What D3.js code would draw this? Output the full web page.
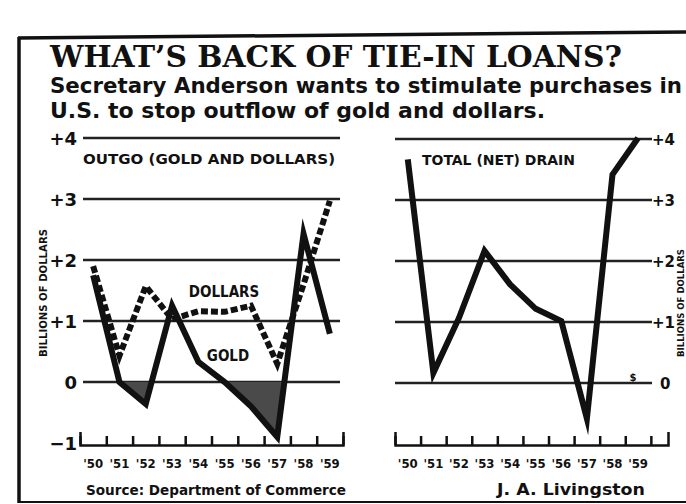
<!DOCTYPE html>
<html>
<head>
<meta charset="utf-8">
<script src="https://cdn.jsdelivr.net/npm/d3@7"></script>
<style>
	body { margin: 0; background: #fff; }
	svg { display: block; }
	.serif { font-family: "DejaVu Serif", serif; font-weight: bold; }
	.sans { font-family: "DejaVu Sans", sans-serif; font-weight: bold; }
	.narrow { font-family: "Liberation Sans Narrow", "DejaVu Sans Condensed", sans-serif; font-weight: bold; }
</style>
</head>
<body>
<svg id="chart"></svg>
<script>
// values (billions of dollars)
var years = [1950, 1951, 1952, 1953, 1954, 1955, 1956, 1957, 1958, 1959];
var yearLabels = ["'50", "'51", "'52", "'53", "'54", "'55", "'56", "'57", "'58", "'59"];
var gold = [1.75, 0.0, -0.36, 1.25, 0.33, 0.0, -0.4, -0.9, 2.43, 0.79];
var dollars = [1.9, 0.43, 1.57, 1.03, 1.16, 1.15, 1.25, 0.3, 1.6, 2.97];
var total = [3.65, 0.15, 1.05, 2.15, 1.6, 1.2, 1.0, -0.6, 3.4, 4.0];
var leftTickValues = [4, 3, 2, 1, 0, -1];
var leftTickLabels = ['+4', '+3', '+2', '+1', '0', '\u22121'];
var gridValues = [4, 3, 2, 1, 0];
var rightTickLabels = ['+4', '+3', '+2', '+1', '0'];

function makeChart() {
	let w = 686;
	let h = 504;
	let ink = '#111';

	let chart = d3.select('#chart')
		.attr('width', w)
		.attr('height', h);

	// frame
	chart.append('line')
		.attr('x1', 18).attr('y1', 38).attr('x2', w).attr('y2', 32)
		.style('stroke', ink).style('stroke-width', 3.5);
	chart.append('line')
		.attr('x1', 19).attr('y1', 37).attr('x2', 19).attr('y2', 503)
		.style('stroke', ink).style('stroke-width', 3.5);
	chart.append('line')
		.attr('x1', 18).attr('y1', 502).attr('x2', w).attr('y2', 502)
		.style('stroke', ink).style('stroke-width', 2);

	// headings
	chart.append('text').classed('serif', true)
		.attr('x', 50).attr('y', 67)
		.attr('textLength', 572).attr('lengthAdjust', 'spacingAndGlyphs')
		.style('font-size', '30px').style('fill', ink)
		.text('WHAT\u2019S BACK OF TIE-IN LOANS?');
	chart.append('text').classed('sans', true)
		.attr('x', 50).attr('y', 93)
		.attr('textLength', 632).attr('lengthAdjust', 'spacingAndGlyphs')
		.style('font-size', '21px').style('fill', ink)
		.text('Secretary Anderson wants to stimulate purchases in');
	chart.append('text').classed('sans', true)
		.attr('x', 50).attr('y', 118)
		.attr('textLength', 495).attr('lengthAdjust', 'spacingAndGlyphs')
		.style('font-size', '21px').style('fill', ink)
		.text('U.S. to stop outflow of gold and dollars.');

	let y = d3.scaleLinear().domain([-1, 4]).range([443, 138]);

	// ---------- left panel ----------
	let xl = d3.scaleLinear().domain([1949.5, 1959.5]).range([80, 343]);

	chart.selectAll('.gridL')
		.data(gridValues)
		.enter()
		.append('line')
		.classed('gridL', true)
		.attr('x1', 83).attr('x2', 340)
		.attr('y1', d => y(d)).attr('y2', d => y(d))
		.style('stroke', '#222').style('stroke-width', 2.5);

	chart.selectAll('.ylabL')
		.data(leftTickValues)
		.enter()
		.append('text')
		.attr('class', 'sans')
		.attr('x', 77)
		.attr('y', d => y(d) + 7)
		.style('text-anchor', 'end')
		.style('font-size', '18px')
		.style('fill', ink)
		.text((d, i) => leftTickLabels[i]);

	chart.append('text').classed('sans', true)
		.attr('transform', 'translate(47,293) rotate(-90)')
		.attr('textLength', 128).attr('lengthAdjust', 'spacingAndGlyphs')
		.style('text-anchor', 'middle').style('font-size', '10px').style('fill', ink)
		.text('BILLIONS OF DOLLARS');

	chart.append('text').classed('narrow', true)
		.attr('x', 83).attr('y', 164)
		.attr('textLength', 252).attr('lengthAdjust', 'spacingAndGlyphs')
		.style('font-size', '14px').style('fill', ink)
		.text('OUTGO (GOLD AND DOLLARS)');

	let axisL = d3.axisBottom(xl)
		.tickValues(d3.range(1949.5, 1960, 1))
		.tickSize(-9).tickSizeOuter(-13)
		.tickFormat('');
	chart.append('g')
		.attr('transform', 'translate(0,445)')
		.call(axisL)
		.call(g => g.selectAll('path, line').style('stroke', ink).style('stroke-width', 2.5));

	chart.selectAll('.yearL')
		.data(years)
		.enter()
		.append('text')
		.attr('class', 'narrow')
		.attr('x', d => xl(d))
		.attr('y', 468)
		.style('text-anchor', 'middle')
		.style('font-size', '13px')
		.style('fill', ink)
		.text((d, i) => yearLabels[i]);

	// shaded gold losses below zero
	chart.append('clipPath').attr('id', 'below')
		.append('rect')
		.attr('x', 0).attr('y', y(0)).attr('width', w).attr('height', 100);
	let areaL = d3.area()
		.x((d, i) => xl(years[i]))
		.y0(y(0))
		.y1(d => y(d));
	chart.append('path')
		.datum(gold)
		.attr('clip-path', 'url(#below)')
		.attr('d', areaL)
		.style('fill', '#4a4a4a');

	let lineL = d3.line()
		.x((d, i) => xl(years[i]))
		.y(d => y(d));

	chart.append('path')
		.datum(dollars)
		.attr('d', lineL)
		.style('fill', 'none')
		.style('stroke', ink)
		.style('stroke-width', 6)
		.style('stroke-dasharray', '7,3');

	chart.append('path')
		.datum(gold)
		.attr('d', lineL)
		.style('fill', 'none')
		.style('stroke', ink)
		.style('stroke-width', 6)
		.style('stroke-linejoin', 'miter')
		.style('stroke-miterlimit', 10);

	chart.append('text').classed('narrow', true)
		.attr('x', 224).attr('y', 297)
		.style('text-anchor', 'middle').style('font-size', '15px').style('fill', ink)
		.text('DOLLARS');
	chart.append('text').classed('narrow', true)
		.attr('x', 228).attr('y', 361)
		.style('text-anchor', 'middle').style('font-size', '15px').style('fill', ink)
		.text('GOLD');

	// ---------- right panel ----------
	let xr = d3.scaleLinear().domain([1949.5, 1960.17]).range([395, 668]);

	chart.selectAll('.gridR')
		.data(gridValues)
		.enter()
		.append('line')
		.classed('gridR', true)
		.attr('x1', 395).attr('x2', 652)
		.attr('y1', d => y(d) + 1).attr('y2', d => y(d) + 1)
		.style('stroke', '#222').style('stroke-width', 2.5);

	chart.selectAll('.ylabR')
		.data(gridValues)
		.enter()
		.append('text')
		.attr('class', 'sans')
		.attr('x', d => d === 0 ? 660 : 652)
		.attr('y', d => y(d) + 7)
		.style('font-size', '15px')
		.style('fill', ink)
		.text((d, i) => rightTickLabels[i]);

	chart.append('text').classed('sans', true)
		.attr('transform', 'translate(684,303) rotate(-90)')
		.attr('textLength', 108).attr('lengthAdjust', 'spacingAndGlyphs')
		.style('text-anchor', 'middle').style('font-size', '8px').style('fill', ink)
		.text('BILLIONS OF DOLLARS');

	chart.append('text').classed('narrow', true)
		.attr('x', 422).attr('y', 165)
		.attr('textLength', 153).attr('lengthAdjust', 'spacingAndGlyphs')
		.style('font-size', '14px').style('fill', ink)
		.text('TOTAL (NET) DRAIN');

	chart.append('text').classed('sans', true)
		.attr('x', 633).attr('y', 381)
		.style('text-anchor', 'middle').style('font-size', '10px').style('fill', ink)
		.text('$');

	let axisR = d3.axisBottom(xr)
		.tickValues(d3.range(1949.5, 1960, 1))
		.tickSize(-9).tickSizeOuter(-13)
		.tickFormat('');
	chart.append('g')
		.attr('transform', 'translate(0,445)')
		.call(axisR)
		.call(g => g.selectAll('path, line').style('stroke', ink).style('stroke-width', 2.5));

	chart.selectAll('.yearR')
		.data(years)
		.enter()
		.append('text')
		.attr('class', 'narrow')
		.attr('x', d => xr(d))
		.attr('y', 468)
		.style('text-anchor', 'middle')
		.style('font-size', '13px')
		.style('fill', ink)
		.text((d, i) => yearLabels[i]);

	let lineR = d3.line()
		.x((d, i) => xr(years[i]))
		.y(d => y(d));
	chart.append('path')
		.datum(total)
		.attr('d', lineR)
		.style('fill', 'none')
		.style('stroke', ink)
		.style('stroke-width', 6)
		.style('stroke-linejoin', 'miter')
		.style('stroke-miterlimit', 10);

	// footers
	chart.append('text').classed('sans', true)
		.attr('x', 86).attr('y', 495)
		.attr('textLength', 260).attr('lengthAdjust', 'spacingAndGlyphs')
		.style('font-size', '14px').style('fill', ink)
		.text('Source: Department of Commerce');
	chart.append('text').classed('sans', true)
		.attr('x', 497).attr('y', 495)
		.attr('textLength', 148).attr('lengthAdjust', 'spacingAndGlyphs')
		.style('font-size', '15px').style('fill', ink)
		.text('J. A. Livingston');
}

window.onload = function () {
	makeChart();
}
</script>
</body>
</html>
